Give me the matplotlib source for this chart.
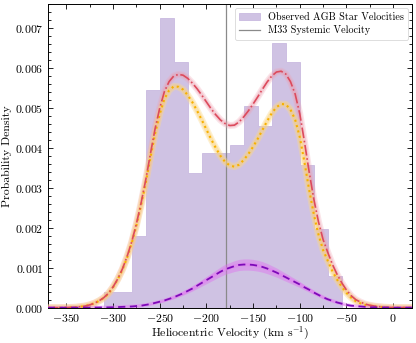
import numpy as np
import matplotlib
matplotlib.use("Agg")
import matplotlib.pyplot as plt
from matplotlib.ticker import MultipleLocator

plt.rcParams['font.family'] = ['cmr10', 'DejaVu Serif']
plt.rcParams['mathtext.fontset'] = 'cm'
plt.rcParams['axes.formatter.use_mathtext'] = True
plt.rcParams['axes.unicode_minus'] = True

# ---------------- data ----------------
bin_edges = [-310, -295, -280, -265, -250, -235, -220, -205, -190, -175,
             -160, -145, -130, -115, -100, -85, -70, -55]
hist_density = [0.00039, 0.00039, 0.00179, 0.00546, 0.00724, 0.00615, 0.00338,
                0.00386, 0.00386, 0.00407, 0.00506, 0.00455, 0.00663, 0.00614,
                0.00358, 0.00198, 0.00079]

velocity = [-370, -360, -350, -340, -330, -325, -320, -315, -310, -305, -300,
            -295, -290, -285, -280, -275, -270, -265, -260, -255, -250, -245,
            -240, -235, -230, -225, -220, -215, -210, -205, -200, -195, -190,
            -185, -180, -175, -170, -165, -160, -155, -150, -145, -140, -135,
            -130, -125, -120, -115, -110, -105, -100, -95, -90, -85, -80, -75,
            -70, -65, -60, -55, -50, -45, -40, -35, -30, -25, -20, -10, 0, 10, 20]

total_model = [0, 0, 0.000002, 0.00001, 0.00004, 0.00007, 0.00011, 0.00017,
               0.00025, 0.00036, 0.00052, 0.00072, 0.00097, 0.00128, 0.00165,
               0.00210, 0.00262, 0.00320, 0.00385, 0.00448, 0.00500, 0.00541,
               0.00566, 0.00580, 0.00584, 0.00582, 0.00574, 0.00562, 0.00548,
               0.00532, 0.00515, 0.00498, 0.00483, 0.00470, 0.00461, 0.00456,
               0.00457, 0.00465, 0.00478, 0.00493, 0.00510, 0.00528, 0.00547,
               0.00565, 0.00580, 0.00590, 0.00592, 0.00585, 0.00566, 0.00535,
               0.00485, 0.00415, 0.00340, 0.00272, 0.00215, 0.00170, 0.00138,
               0.00108, 0.00083, 0.00062, 0.00044, 0.00030, 0.00020, 0.00014,
               0.00009, 0.00006, 0.00004, 0.00001, 0, 0, 0]

disk_model = [0, 0, 0.000002, 0.00001, 0.00004, 0.00007, 0.00011, 0.00017,
              0.00024, 0.00035, 0.00051, 0.00071, 0.00095, 0.00125, 0.00162,
              0.00206, 0.00257, 0.00313, 0.00376, 0.00436, 0.00485, 0.00523,
              0.00544, 0.00554, 0.00553, 0.00546, 0.00532, 0.00514, 0.00493,
              0.00470, 0.00446, 0.00422, 0.00400, 0.00380, 0.00365, 0.00356,
              0.00353, 0.00358, 0.00370, 0.00385, 0.00403, 0.00423, 0.00445,
              0.00467, 0.00487, 0.00502, 0.00510, 0.00509, 0.00496, 0.00471,
              0.00427, 0.00364, 0.00295, 0.00234, 0.00183, 0.00144, 0.00117,
              0.00091, 0.00070, 0.00052, 0.00037, 0.00025, 0.00016, 0.00011,
              0.00007, 0.00005, 0.00003, 0.00001, 0, 0, 0]

halo_model = [0, 0, 0, 0.000001, 0.000002, 0.000003, 0.000004, 0.000005,
              0.000006, 0.000008, 0.00001, 0.000015, 0.00002, 0.000025, 0.00003,
              0.00004, 0.00005, 0.00007, 0.00009, 0.00012, 0.00015, 0.00018,
              0.00022, 0.00026, 0.00031, 0.00036, 0.00042, 0.00048, 0.00055,
              0.00062, 0.00069, 0.00076, 0.00083, 0.00090, 0.00096, 0.00100,
              0.00104, 0.00107, 0.00108, 0.00108, 0.00107, 0.00105, 0.00102,
              0.00098, 0.00093, 0.00088, 0.00082, 0.00076, 0.00070, 0.00064,
              0.00058, 0.00051, 0.00045, 0.00038, 0.00032, 0.00026, 0.00021,
              0.00017, 0.00013, 0.00010, 0.00007, 0.00005, 0.00004, 0.00003,
              0.00002, 0.00001, 0.00001, 0.000005, 0, 0, 0]

systemic_velocity = -179.2

# ---------------- plot ----------------
fig = plt.figure(figsize=(4.16, 3.43), dpi=100)
ax = fig.add_axes([0.1147, 0.103, 0.8753, 0.885])

centers = [(a + b) / 2 for a, b in zip(bin_edges[:-1], bin_edges[1:])]
ax.hist(centers, bins=bin_edges, weights=hist_density, histtype='stepfilled',
        facecolor='#cfc2e3', edgecolor='#c9b9e0', linewidth=0.6,
        label='Observed AGB Star Velocities', zorder=1)

ax.axvline(systemic_velocity, color='#8a8a8a', linewidth=0.9,
           label='M33 Systemic Velocity', zorder=2)

v = np.array(velocity)
tot = np.array(total_model)
dsk = np.array(disk_model)
hal = np.array(halo_model)

# uncertainty bands (posterior samples)
ax.plot(v, tot, color='#f0a0b0', lw=5, alpha=0.28, zorder=3)
ax.plot(v, tot, color='#ec94a4', lw=3, alpha=0.3, zorder=3)
ax.plot(v, dsk, color='#fcd98a', lw=5, alpha=0.4, zorder=3)
ax.plot(v, dsk, color='#fbcf70', lw=3, alpha=0.4, zorder=3)
ax.fill_between(v, hal * 0.87, hal * 1.13, color='#e070f0', alpha=0.45,
                linewidth=0, zorder=3)
ax.plot(v, hal, color='#e27cf2', lw=2.5, alpha=0.5, zorder=3)

ax.plot(v, tot, color='#dc4a5c', lw=1.2, linestyle='-.', zorder=5)
ax.plot(v, dsk, color='#f7b000', lw=1.5, linestyle=':', zorder=4)
ax.plot(v, hal, color='#7d0ab8', lw=1.3, linestyle='--', dashes=(4, 2.5), zorder=5)

ax.set_xlim(-370, 20)
ax.set_ylim(0, 0.0076)
ax.xaxis.set_major_locator(MultipleLocator(50))
ax.xaxis.set_minor_locator(MultipleLocator(25))
ax.yaxis.set_major_locator(MultipleLocator(0.001))
ax.yaxis.set_minor_locator(MultipleLocator(0.0002))
ax.tick_params(which='both', direction='in', top=True, right=True,
               labelsize=8.5, width=0.6)
ax.tick_params(which='major', length=3.5, pad=3)
ax.tick_params(which='minor', length=2)
ax.yaxis.set_major_formatter(matplotlib.ticker.FormatStrFormatter('$%.3f$'))
ax.xaxis.set_major_formatter(matplotlib.ticker.FuncFormatter(
    lambda x, p: '$%d$' % x))
for s in ax.spines.values():
    s.set_linewidth(0.7)

ax.set_xlabel(r'Heliocentric Velocity (km s$^{-1}$)', fontsize=8.5, labelpad=1)
ax.set_ylabel('Probability Density', fontsize=8.5, labelpad=2)

leg = ax.legend(loc='upper right', fontsize=7.3, frameon=True, fancybox=True,
                edgecolor='#d8d8d8', framealpha=1, handlelength=2.0,
                borderpad=0.45, labelspacing=0.35, borderaxespad=0.35)
leg.get_frame().set_linewidth(0.6)

fig.savefig('out.png', dpi=100)
